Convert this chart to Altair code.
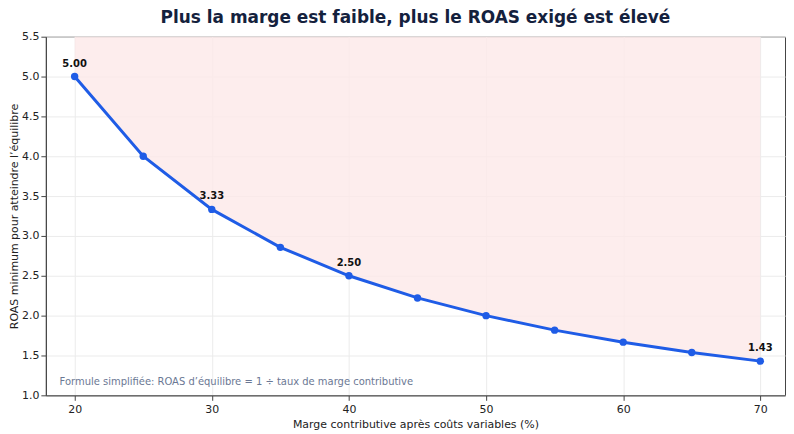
import altair as alt
import pandas as pd

marges = [20, 25, 30, 35, 40, 45, 50, 55, 60, 65, 70]
roas = [5.00, 4.00, 3.333, 2.857, 2.50, 2.222, 2.00, 1.818, 1.667, 1.538, 1.429]
label_marges = [20, 30, 40, 70]
label_texts = ["5.00", "3.33", "2.50", "1.43"]
label_roas = [5.00, 3.333, 2.50, 1.429]
x_ticks = [20, 30, 40, 50, 60, 70]
y_ticks = [1.0, 1.5, 2.0, 2.5, 3.0, 3.5, 4.0, 4.5, 5.0, 5.5]

title = "Plus la marge est faible, plus le ROAS exigé est élevé"
x_title = "Marge contributive après coûts variables (%)"
y_title = "ROAS minimum pour atteindre l’équilibre"
note = "Formule simplifiée: ROAS d’équilibre = 1 ÷ taux de marge contributive"

df = pd.DataFrame({"marge": marges, "roas": roas, "top": [5.5] * len(marges)})
lab = pd.DataFrame({"marge": label_marges, "roas": label_roas, "txt": label_texts})
nt = pd.DataFrame({"marge": [18.9], "roas": [1.17], "txt": [note]})

FONT = "DejaVu Sans"
xs = alt.Scale(domain=[17.9, 71.8], nice=False, zero=False)
ys = alt.Scale(domain=[1.0, 5.5], nice=False, zero=False)

x_axis = alt.Axis(values=x_ticks, title=x_title, grid=True,
                  gridColor="#ebebeb", labelFontSize=11, titleFontSize=11,
                  labelColor="#222", titleColor="#222", domainColor="#444",
                  tickColor="#444", tickSize=5, labelPadding=3, titlePadding=4,
                  labelFont=FONT, titleFont=FONT, titleFontWeight="normal",
                  labelOverlap=False)
y_axis = alt.Axis(values=y_ticks, format=".1f", title=y_title, grid=True,
                  gridColor="#ebebeb", labelFontSize=11, titleFontSize=11,
                  labelColor="#222", titleColor="#222", domainColor="#444",
                  tickColor="#444", tickSize=5, labelPadding=2, titlePadding=2,
                  labelFont=FONT, titleFont=FONT, titleFontWeight="normal",
                  labelOverlap=False)

X = alt.X("marge:Q", scale=xs, axis=x_axis)
Y = alt.Y("roas:Q", scale=ys, axis=y_axis)

base = alt.Chart(df)

area = base.mark_area(color="#fde8e8", opacity=0.8).encode(x=X, y=Y, y2="top:Q")
line = base.mark_line(color="#1f5ce6", strokeWidth=3).encode(x=X, y=Y)
pts = base.mark_circle(color="#1f5ce6", size=55, opacity=1).encode(x=X, y=Y)

labels = alt.Chart(lab).mark_text(font=FONT, fontSize=10, fontWeight="bold",
                                  color="#111", dy=-13).encode(x=X, y=Y, text="txt:N")

note_t = alt.Chart(nt).mark_text(font=FONT, fontSize=10, color="#6b7894",
                                 align="left", baseline="middle").encode(
    x=X, y=Y, text="txt:N")

chart = alt.layer(area, line, pts, labels, note_t).properties(
    width=742, height=360,
    title=alt.TitleParams(title, font=FONT, fontSize=17, fontWeight="bold",
                          color="#14213d", anchor="middle", offset=4),
    padding={"left": 0, "top": 0, "right": 1, "bottom": 0},
).configure_view(stroke="#444", strokeWidth=1)

chart.save("out.html", embed_options={"renderer": "svg", "actions": False})
